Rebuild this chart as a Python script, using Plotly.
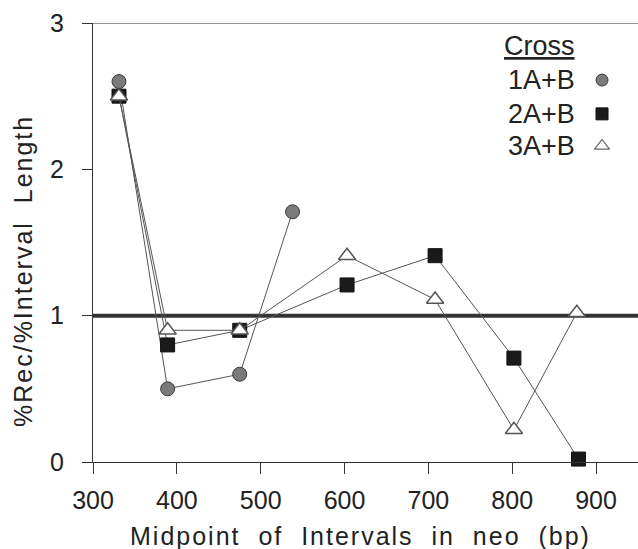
import plotly.graph_objects as go

# Data
x_1ab = [331, 389, 475, 538]
y_1ab = [2.60, 0.50, 0.60, 1.71]
x_2ab = [331, 389, 475, 603, 708, 802, 879]
y_2ab = [2.50, 0.80, 0.90, 1.21, 1.41, 0.71, 0.02]
x_3ab = [331, 389, 475, 603, 708, 802, 877]
y_3ab = [2.50, 0.90, 0.90, 1.41, 1.11, 0.22, 1.02]
series_names = ["1A+B", "2A+B", "3A+B"]
x_ticks = [300, 400, 500, 600, 700, 800, 900]
y_ticks = [0, 1, 2, 3]
reference_level = 1

FONT = "Liberation Sans, Arial, Helvetica, sans-serif"
TXT = "#222222"
LINE = "#555555"

styles = [
    dict(symbol="circle", size=14, color="#7a7a7a", line=dict(color="#3a3a3a", width=1)),
    dict(symbol="square", size=14, color="#1a1a1a", line=dict(color="#111111", width=1)),
    dict(symbol="triangle-up", size=15, color="#ffffff", line=dict(color="#555555", width=1.5)),
]

fig = go.Figure()
for xs, ys, st, nm in zip([x_1ab, x_2ab, x_3ab], [y_1ab, y_2ab, y_3ab], styles, series_names):
    fig.add_trace(go.Scatter(x=xs, y=ys, mode="lines+markers", name=nm,
                             line=dict(color=LINE, width=1), marker=st,
                             showlegend=False, cliponaxis=False))

# Manual legend: keys drawn on an overlay axis in [0,1] fractions
key_x = [0.934, 0.934, 0.934]
key_y = [0.870, 0.793, 0.720]
for st, kx, ky, nm in zip(styles, key_x, key_y, series_names):
    s = dict(st)
    s["size"] = st["size"] - 2
    if st["symbol"] == "triangle-up":
        s["line"] = dict(color="#666666", width=1.2)
    fig.add_trace(go.Scatter(x=[kx], y=[ky], mode="markers", marker=s,
                             xaxis="x2", yaxis="y2", showlegend=False, hoverinfo="skip"))

fig.update_layout(
    width=638, height=549,
    margin=dict(l=93, r=0, t=23, b=87),
    paper_bgcolor="white", plot_bgcolor="white",
    font=dict(family=FONT, color=TXT),
    xaxis=dict(range=[300, 950], tickvals=x_ticks, ticks="outside", ticklen=11,
               tickcolor="#333", tickwidth=1.2, showline=True, linecolor="#333", linewidth=1.2,
               showgrid=False, zeroline=False, tickfont=dict(size=25, family=FONT, color=TXT),
               ticklabelstandoff=5),
    yaxis=dict(range=[0, 3], tickvals=y_ticks, ticks="outside", ticklen=10,
               tickcolor="#333", tickwidth=1.2, showline=True, linecolor="#333", linewidth=1.2,
               showgrid=False, zeroline=False, tickfont=dict(size=25, family=FONT, color=TXT),
               ticklabelstandoff=13),
    xaxis2=dict(range=[0, 1], overlaying="x", visible=False, fixedrange=True),
    yaxis2=dict(range=[0, 1], overlaying="y", visible=False, fixedrange=True),
)

fig.add_shape(type="line", xref="x domain", yref="y", x0=0, x1=1,
              y0=reference_level, y1=reference_level,
              line=dict(color="#333333", width=4), layer="below")
fig.add_shape(type="line", xref="x domain", yref="y", x0=0, x1=1, y0=3, y1=3,
              line=dict(color="#333333", width=1.2))

def px_x(p):
    return (p - 93) / 545.0

def px_y(p):
    return (462 - p) / 439.0

ann = []
ann.append(dict(text="<u>Cross</u>", x=px_x(577), y=px_y(46), xanchor="right", yanchor="middle"))
for nm, yy in zip(series_names, [80, 114, 146]):
    ann.append(dict(text=nm, x=px_x(577), y=px_y(yy), xanchor="right", yanchor="middle"))
ann.append(dict(text="Midpoint\u00a0\u00a0of\u00a0\u00a0Intervals\u00a0\u00a0in\u00a0\u00a0neo\u00a0\u00a0(bp)",
                x=px_x(360), y=px_y(536), xanchor="center", yanchor="middle",
                font=dict(size=25, family=FONT, color=TXT)))
ann.append(dict(text="%Rec/%Interval\u00a0\u00a0Length", x=px_x(23), y=px_y(271),
                xanchor="center", yanchor="middle", textangle=-90,
                font=dict(size=25, family=FONT, color=TXT)))
for a in ann:
    a.setdefault("font", dict(size=27, family=FONT, color=TXT))
    a.update(xref="paper", yref="paper", showarrow=False)
fig.update_layout(annotations=ann)

post = """
document.body.style.margin = '0';
document.querySelectorAll('text.annotation-text').forEach(function(t){
  var s = t.textContent;
  if (s.indexOf('Midpoint') === 0 || s.indexOf('%Rec') === 0) {
    t.style.letterSpacing = '2px';
  }
});
"""
fig.write_html("out.html", post_script=post, config={"displayModeBar": False})
